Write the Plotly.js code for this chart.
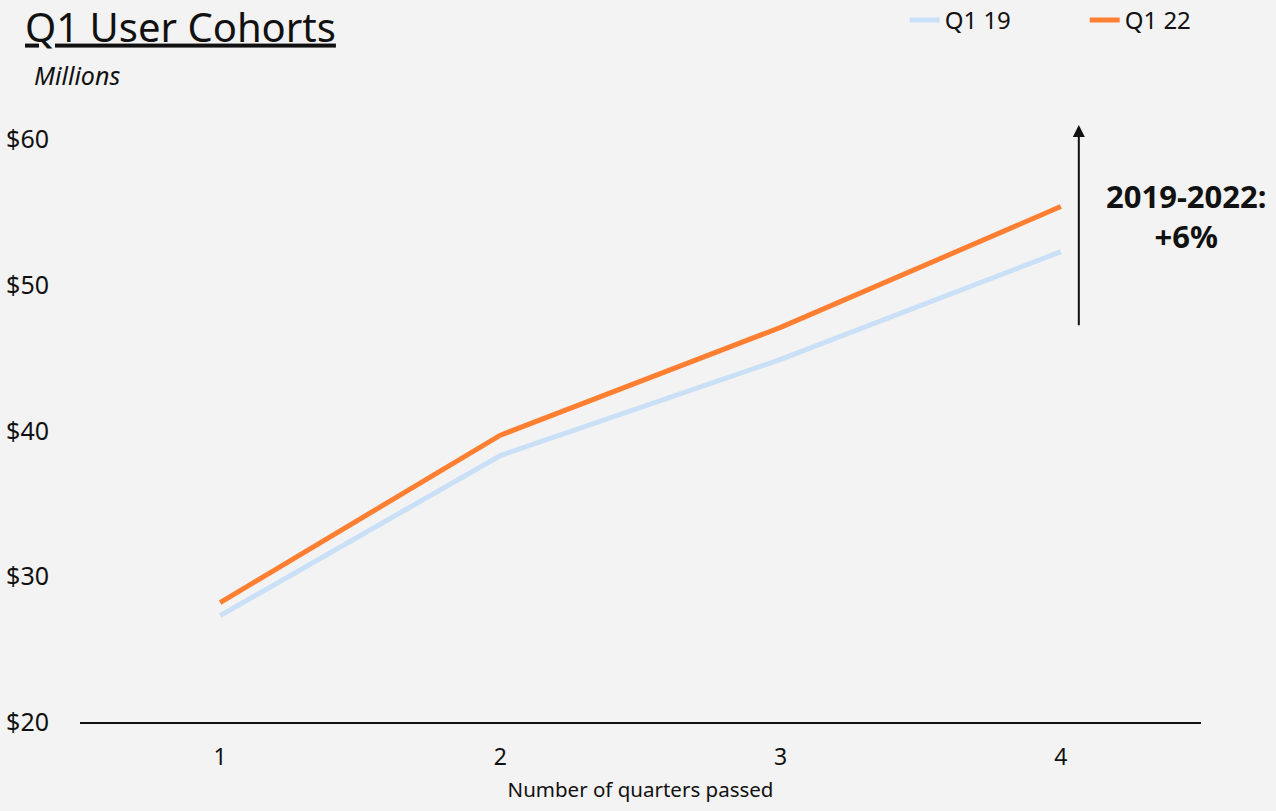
<!DOCTYPE html>
<html><head><meta charset="utf-8">
<script src="https://cdn.plot.ly/plotly-3.0.1.min.js"></script>
<style>html,body{margin:0;padding:0;background:#f3f3f3;}</style>
</head><body>
<div id="chart" style="width:1276px;height:811px;"></div>
<script>
const quarters = [1, 2, 3, 4];
const q119 = [27.3, 38.3, 44.9, 52.3];
const q122 = [28.2, 39.7, 47.1, 55.4];
const yTicks = [20, 30, 40, 50, 60];
const yTickText = ['$20', '$30', '$40', '$50', '$60'];
const FONT = '"Noto Sans", sans-serif';

const traces = [
  {x: quarters, y: q119, name: 'Q1 19', mode: 'lines', line: {color: '#c9e0f7', width: 5}},
  {x: quarters, y: q122, name: 'Q1 22', mode: 'lines', line: {color: '#ff7f32', width: 5}}
];

const layout = {
  width: 1276, height: 811,
  paper_bgcolor: '#f3f3f3', plot_bgcolor: '#f3f3f3',
  margin: {l: 80, r: 75, t: 125, b: 89},
  font: {family: FONT, color: '#111'},
  title: {text: '<u>Q1 User Cohorts</u>', x: 0.0196, xanchor: 'left', xref: 'container', y: 0.966, yref: 'container', yanchor: 'middle', font: {size: 40, family: FONT, color: '#111'}},
  showlegend: true,
  legend: {orientation: 'h', x: 0.709, xanchor: 'left', xref: 'container', y: 0.975, yref: 'container', yanchor: 'middle',
           font: {size: 24, family: FONT}, bgcolor: 'rgba(0,0,0,0)', entrywidth: 135, entrywidthmode: 'pixels'},
  xaxis: {range: [0.5, 4.5], tickvals: quarters, showgrid: false, zeroline: false, showline: true, linecolor: '#111', linewidth: 2,
          tickfont: {size: 23, family: FONT}, ticks: '', ticklabelstandoff: 13,
          title: {text: 'Number of quarters passed', font: {size: 20.5, family: FONT}, standoff: 12}},
  yaxis: {range: [20, 61], tickvals: yTicks, ticktext: yTickText, showgrid: false, zeroline: false, showline: false,
          tickfont: {size: 25, family: FONT}, ticks: '', ticklabelstandoff: 30},
  annotations: [
    {text: '<i>Millions</i>', xref: 'paper', yref: 'paper', x: -0.0428, y: 1.083, xanchor: 'left', yanchor: 'middle', showarrow: false, font: {size: 25, family: FONT}},
    {x: 4.064, y: 61, xref: 'x', yref: 'y', ax: 4.064, ay: 47.15, axref: 'x', ayref: 'y', showarrow: true, arrowhead: 2, arrowsize: 1.2, arrowwidth: 2, arrowcolor: '#111', text: ''},
    {text: '<b>2019-2022:<br>+6%</b>', x: 4.45, y: 54.75, xref: 'x', yref: 'y', showarrow: false, xanchor: 'center', yanchor: 'middle', font: {size: 31, family: FONT, color: '#111'}}
  ]
};
Plotly.newPlot('chart', traces, layout, {displayModeBar: false});
</script>
</body></html>
